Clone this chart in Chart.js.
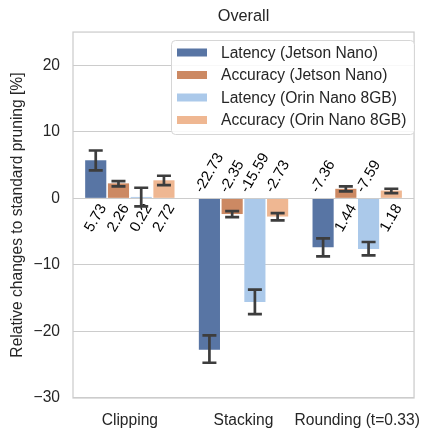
<!DOCTYPE html>
<html>
<head>
<meta charset="utf-8">
<script src="https://cdn.jsdelivr.net/npm/chart.js@4"></script>
<style>
  body { margin: 0; background: #ffffff; }
  #wrap { width: 427px; height: 428px; }
</style>
</head>
<body>
<div id="wrap"><canvas id="chart"></canvas></div>
<script>
const categories = ["Clipping", "Stacking", "Rounding (t=0.33)"];
const seriesLabels = ["Latency (Jetson Nano)", "Accuracy (Jetson Nano)", "Latency (Orin Nano 8GB)", "Accuracy (Orin Nano 8GB)"];
const seriesColors = ["#5875a4", "#cc8963", "#abc9ea", "#efb792"];

const latencyJetson = [5.73, -22.73, -7.36];
const accuracyJetson = [2.26, -2.35, 1.44];
const latencyOrin = [0.22, -15.59, -7.59];
const accuracyOrin = [2.72, -2.73, 1.18];

// error bar ends
const latencyJetsonLow = [4.2, -24.7, -8.7];
const latencyJetsonHigh = [7.2, -20.6, -6.0];
const accuracyJetsonLow = [1.8, -2.8, 1.05];
const accuracyJetsonHigh = [2.6, -1.9, 1.8];
const latencyOrinLow = [-1.2, -17.4, -8.55];
const latencyOrinHigh = [1.6, -13.7, -6.55];
const accuracyOrinLow = [2.0, -3.3, 0.8];
const accuracyOrinHigh = [3.4, -2.2, 1.45];

const yTicks = [-30, -20, -10, 0, 10, 20];

const FONT = "'Liberation Sans', Arial, sans-serif";
const TEXT = "#262626";
const GRID = "#cccccc";
const FS = 15.6;

const values = [latencyJetson, accuracyJetson, latencyOrin, accuracyOrin];
const lows = [latencyJetsonLow, accuracyJetsonLow, latencyOrinLow, accuracyOrinLow];
const highs = [latencyJetsonHigh, accuracyJetsonHigh, latencyOrinHigh, accuracyOrinHigh];

const datasets = seriesLabels.map((label, i) => ({
    label: label,
    data: values[i],
    errLow: lows[i],
    errHigh: highs[i],
    backgroundColor: seriesColors[i],
    borderWidth: 0,
    categoryPercentage: 0.8,
    barPercentage: 0.93
}));

const framePlugin = {
    id: "frame",
    beforeDatasetsDraw(chart) {
        const a = chart.chartArea;
        const ctx = chart.ctx;
        ctx.save();
        ctx.strokeStyle = GRID;
        ctx.lineWidth = 1.25;
        ctx.strokeRect(a.left, a.top, a.right - a.left, a.bottom - a.top);
        ctx.restore();
    }
};

const barLabelPlugin = {
    id: "barLabels",
    afterDatasetsDraw(chart) {
        const ctx = chart.ctx;
        const y0 = chart.scales.y.getPixelForValue(0);
        const ang = 60 * Math.PI / 180;
        ctx.save();
        ctx.font = "15px " + FONT;
        ctx.fillStyle = "#000000";
        ctx.textAlign = "center";
        ctx.textBaseline = "middle";
        chart.data.datasets.forEach((ds, i) => {
            chart.getDatasetMeta(i).data.forEach((bar, j) => {
                const v = ds.data[j];
                const txt = v.toFixed(2);
                const w = ctx.measureText(txt).width;
                const h = 12;
                const H = w * Math.sin(ang) + h * Math.cos(ang);
                const cy = v < 0 ? y0 - 4 - H / 2 : y0 + 4 + H / 2;
                ctx.save();
                ctx.translate(bar.x, cy);
                ctx.rotate(-ang);
                ctx.fillText(txt, 0, 0);
                ctx.restore();
            });
        });
        ctx.restore();
    }
};

const errorBarPlugin = {
    id: "errorBars",
    afterDatasetsDraw(chart) {
        const ctx = chart.ctx;
        const ys = chart.scales.y;
        ctx.save();
        ctx.strokeStyle = "#3d3d3d";
        ctx.lineWidth = 2.7;
        chart.data.datasets.forEach((ds, i) => {
            chart.getDatasetMeta(i).data.forEach((bar, j) => {
                const top = ys.getPixelForValue(ds.errHigh[j]);
                const bot = ys.getPixelForValue(ds.errLow[j]);
                ctx.beginPath();
                ctx.moveTo(bar.x, top);
                ctx.lineTo(bar.x, bot);
                ctx.moveTo(bar.x - 7, top);
                ctx.lineTo(bar.x + 7, top);
                ctx.moveTo(bar.x - 7, bot);
                ctx.lineTo(bar.x + 7, bot);
                ctx.stroke();
            });
        });
        ctx.restore();
    }
};

const legendPlugin = {
    id: "boxLegend",
    afterDraw(chart) {
        const ctx = chart.ctx;
        const x = 171, y = 40, w = 243, h = 94;
        ctx.save();
        ctx.fillStyle = "rgba(255,255,255,0.85)";
        ctx.strokeStyle = "#d6d6d6";
        ctx.lineWidth = 1;
        ctx.beginPath();
        ctx.roundRect(x + 0.5, y + 0.5, w, h, 4);
        ctx.fill();
        ctx.stroke();
        ctx.font = FS + "px " + FONT;
        ctx.textBaseline = "middle";
        ctx.textAlign = "left";
        chart.data.datasets.forEach((ds, i) => {
            const cy = y + 12.5 + i * 22.5;
            ctx.fillStyle = ds.backgroundColor;
            ctx.fillRect(x + 6, cy - 4, 30, 8);
            ctx.fillStyle = TEXT;
            ctx.fillText(ds.label, x + 50, cy + 1);
        });
        ctx.restore();
    }
};

new Chart(document.getElementById("chart"), {
    type: "bar",
    data: { labels: categories, datasets: datasets },
    plugins: [framePlugin, barLabelPlugin, errorBarPlugin, legendPlugin],
    options: {
        responsive: true,
        maintainAspectRatio: false,
        animation: false,
        layout: { padding: { left: 0, right: 5, top: 0, bottom: 0 } },
        plugins: {
            legend: { display: false },
            tooltip: { enabled: false },
            title: {
                display: true,
                text: "Overall",
                fullSize: false,
                color: TEXT,
                font: { family: FONT, size: 16.3, weight: "normal" },
                padding: { top: 6.5, bottom: 6 }
            }
        },
        scales: {
            x: {
                grid: { display: false },
                border: { display: false },
                ticks: { color: TEXT, font: { family: FONT, size: FS }, padding: 5, maxRotation: 0, autoSkip: false },
                afterFit(scale) { scale.height = 30; }
            },
            y: {
                min: -30,
                max: 25,
                grid: { color: GRID, lineWidth: 1.1, drawTicks: false },
                border: { display: false },
                afterBuildTicks(scale) {
                    scale.ticks = yTicks.map(v => ({ value: v }));
                },
                ticks: {
                    color: TEXT,
                    font: { family: FONT, size: FS },
                    padding: 13,
                    callback: v => String(v).replace("-", "\u2212")
                },
                title: {
                    display: true,
                    text: "Relative changes to standard pruning [%]",
                    color: TEXT,
                    font: { family: FONT, size: FS },
                    padding: { top: 8, bottom: 4 }
                },
                afterFit(scale) { scale.width = 73; }
            }
        }
    }
});
</script>
</body>
</html>
